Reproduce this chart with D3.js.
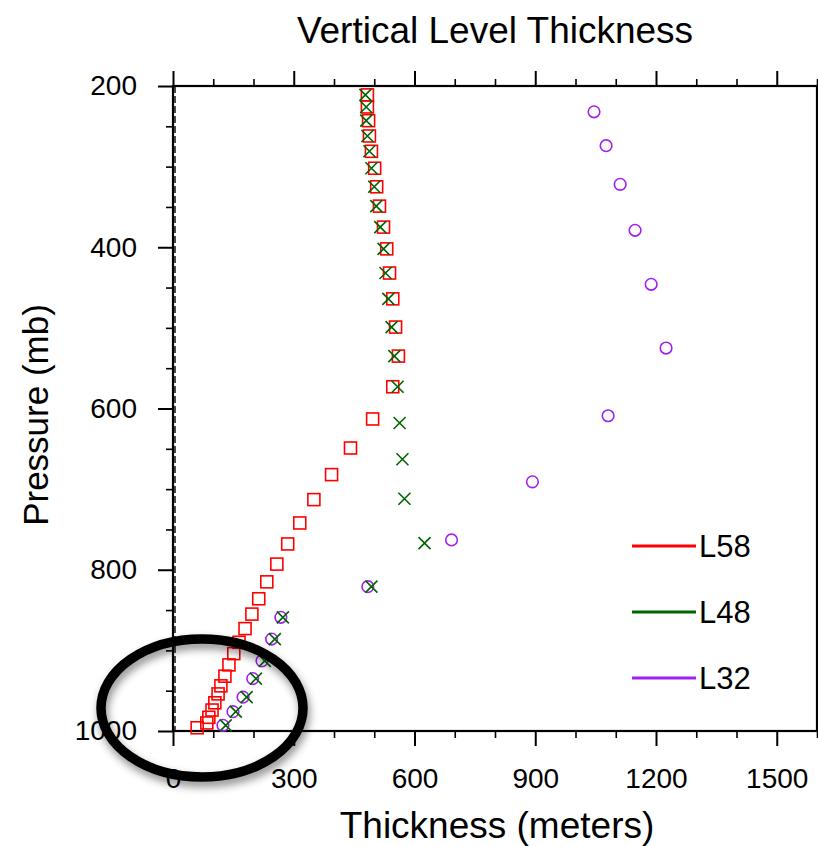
<!DOCTYPE html>
<html>
<head>
<meta charset="utf-8">
<script src="https://cdn.jsdelivr.net/npm/d3@7"></script>
<style>
  body { margin: 0; background: #fff; }
  text { font-family: "Liberation Sans", Arial, Helvetica, sans-serif; fill: #000; }
</style>
</head>
<body>
<div id="vis"></div>
<script>
// data: thickness (m) at pressure (mb)
const L58_THICK = [483, 483, 486, 488, 493, 501, 506, 513, 523, 531, 538, 546, 553, 560, 546,
                   496, 441, 394, 350, 315, 285, 258, 233, 213, 196, 179, 164, 151, 139, 129,
                   119, 112, 104, 97, 89, 84, 60];
const L58_PRES = [211, 226, 243, 262, 281, 302, 325, 349, 375, 402, 432, 464, 499, 535, 573,
                  613, 649, 682, 713, 742, 768, 793, 815, 836, 855, 873, 890, 904, 918, 932,
                  944, 954, 965, 974, 983, 990, 996];

const L48_THICK = [478, 480, 480, 483, 488, 493, 500, 505, 515, 523, 528, 535, 543, 550, 558,
                   563, 570, 575, 625, 493, 273, 253, 228, 206, 183, 156, 131];
const L48_PRES = [211, 226, 243, 262, 281, 302, 325, 349, 375, 402, 432, 464, 499, 535, 573,
                  618, 663, 712, 767, 821, 859, 886, 913, 935, 958, 976, 993];

const L32_THICK = [1046, 1076, 1111, 1148, 1188, 1225, 1081, 893, 692, 484, 268, 245, 221, 198, 174, 149, 124];
const L32_PRES = [232, 274, 322, 379, 446, 525, 609, 691, 763, 821, 859, 886, 913, 935, 958, 976, 993];

const LEGEND_NAMES = ["L58", "L48", "L32"];
const X_TICKS = [0, 300, 600, 900, 1200, 1500];
const Y_TICKS = [200, 400, 600, 800, 1000];

// frame
const FRAME_WIDTH = 818;
const FRAME_HEIGHT = 846;
const PLOT = {left: 173, right: 817, top: 86, bottom: 731};

const COLORS = {L58: "#ff0000", L48: "#006400", L32: "#a020f0"};

const FRAME = d3.select("#vis")
                .append("svg")
                  .attr("width", FRAME_WIDTH)
                  .attr("height", FRAME_HEIGHT);

const X_SCALE = d3.scaleLinear()
                  .domain([0, 1600])
                  .range([PLOT.left, PLOT.right]);

const Y_SCALE = d3.scaleLinear()
                  .domain([200, 1000])
                  .range([PLOT.top, PLOT.bottom]);

const xMinor = d3.range(0, 1601, 100).filter(v => v % 300 != 0);
const yMinor = d3.range(200, 1001, 50).filter(v => v % 200 != 0);

// axes: major + minor ticks, all pointing outwards
function addAxis(axisFn, scale, major, minor, transform, labels) {
  const g1 = FRAME.append("g").attr("transform", transform)
    .call(axisFn(scale).tickValues(minor).tickSize(7).tickFormat(""));
  const g2 = FRAME.append("g").attr("transform", transform)
    .call(axisFn(scale).tickValues(major).tickSize(15).tickPadding(labels ? 21 : 0)
            .tickFormat(labels ? d3.format("d") : ""));
  [g1, g2].forEach(g => {
    g.select(".domain").remove();
    g.selectAll(".tick line").attr("stroke", "#000").attr("stroke-width", 1.6);
  });
  g2.selectAll(".tick line").attr("stroke-width", 2);
  g2.selectAll("text").attr("font-size", "28px").attr("fill", "#000");
  return g2;
}

addAxis(d3.axisBottom, X_SCALE, X_TICKS, xMinor, "translate(0," + PLOT.bottom + ")", true)
  .selectAll("text").attr("dy", "0.71em").attr("y", 37);
addAxis(d3.axisTop, X_SCALE, X_TICKS, xMinor, "translate(0," + PLOT.top + ")", false);
addAxis(d3.axisLeft, Y_SCALE, Y_TICKS, yMinor, "translate(" + PLOT.left + ",0)", true)
  .selectAll("text").attr("x", -36);
addAxis(d3.axisRight, Y_SCALE, Y_TICKS, yMinor, "translate(" + PLOT.right + ",0)", false);

// plot border
FRAME.append("rect")
  .attr("x", PLOT.left)
  .attr("y", PLOT.top)
  .attr("width", PLOT.right - PLOT.left)
  .attr("height", PLOT.bottom - PLOT.top)
  .attr("fill", "none")
  .attr("stroke", "#000")
  .attr("stroke-width", 2.2);

// dashed zero line beside the left axis
FRAME.append("line")
  .attr("x1", X_SCALE(0) + 2).attr("x2", X_SCALE(0) + 2)
  .attr("y1", PLOT.top).attr("y2", PLOT.bottom)
  .attr("stroke", "#000")
  .attr("stroke-width", 1.4)
  .attr("stroke-dasharray", "7,3");

// L32 circles
FRAME.selectAll(".l32")
  .data(L32_THICK)
  .enter()
  .append("circle")
    .attr("cx", (d) => { return X_SCALE(d); })
    .attr("cy", (d, i) => { return Y_SCALE(L32_PRES[i]); })
    .attr("r", 5.8)
    .attr("fill", "none")
    .attr("stroke", COLORS.L32)
    .attr("stroke-width", 1.6);

// L58 squares
FRAME.selectAll(".l58")
  .data(L58_THICK)
  .enter()
  .append("rect")
    .attr("x", (d) => { return X_SCALE(d) - 6; })
    .attr("y", (d, i) => { return Y_SCALE(L58_PRES[i]) - 6; })
    .attr("width", 12)
    .attr("height", 12)
    .attr("fill", "none")
    .attr("stroke", COLORS.L58)
    .attr("stroke-width", 1.6);

// L48 crosses
FRAME.selectAll(".l48")
  .data(L48_THICK)
  .enter()
  .append("path")
    .attr("transform", (d, i) => { return "translate(" + X_SCALE(d) + "," + Y_SCALE(L48_PRES[i]) + ")"; })
    .attr("d", "M-6,-6L6,6M-6,6L6,-6")
    .attr("fill", "none")
    .attr("stroke", COLORS.L48)
    .attr("stroke-width", 1.6);

// legend
const LEG_Y = [546, 612, 678];
LEGEND_NAMES.forEach((name, i) => {
  FRAME.append("line")
    .attr("x1", 632).attr("x2", 696)
    .attr("y1", LEG_Y[i]).attr("y2", LEG_Y[i])
    .attr("stroke", COLORS[name])
    .attr("stroke-width", 3);
  FRAME.append("text")
    .attr("x", 699)
    .attr("y", LEG_Y[i] + 11)
    .attr("font-size", "31px")
    .text(name);
});

// titles
FRAME.append("text")
  .attr("x", 495).attr("y", 43)
  .attr("text-anchor", "middle")
  .attr("font-size", "37px")
  .text("Vertical Level Thickness");

FRAME.append("text")
  .attr("x", 497).attr("y", 838)
  .attr("text-anchor", "middle")
  .attr("font-size", "37px")
  .text("Thickness (meters)");

FRAME.append("text")
  .attr("transform", "translate(48,415) rotate(-90)")
  .attr("text-anchor", "middle")
  .attr("font-size", "35px")
  .text("Pressure (mb)");

// black circle drawn over the lowest levels
const defs = FRAME.append("defs");
const shadow = defs.append("filter").attr("id", "shadow")
  .attr("x", "-20%").attr("y", "-20%").attr("width", "140%").attr("height", "150%");
shadow.append("feDropShadow")
  .attr("dx", 2).attr("dy", 5).attr("stdDeviation", 4)
  .attr("flood-color", "#000").attr("flood-opacity", 0.45);

FRAME.append("ellipse")
  .attr("cx", 202).attr("cy", 708)
  .attr("rx", 101).attr("ry", 69)
  .attr("fill", "none")
  .attr("stroke", "#000")
  .attr("stroke-width", 9.5)
  .attr("filter", "url(#shadow)");
</script>
</body>
</html>
